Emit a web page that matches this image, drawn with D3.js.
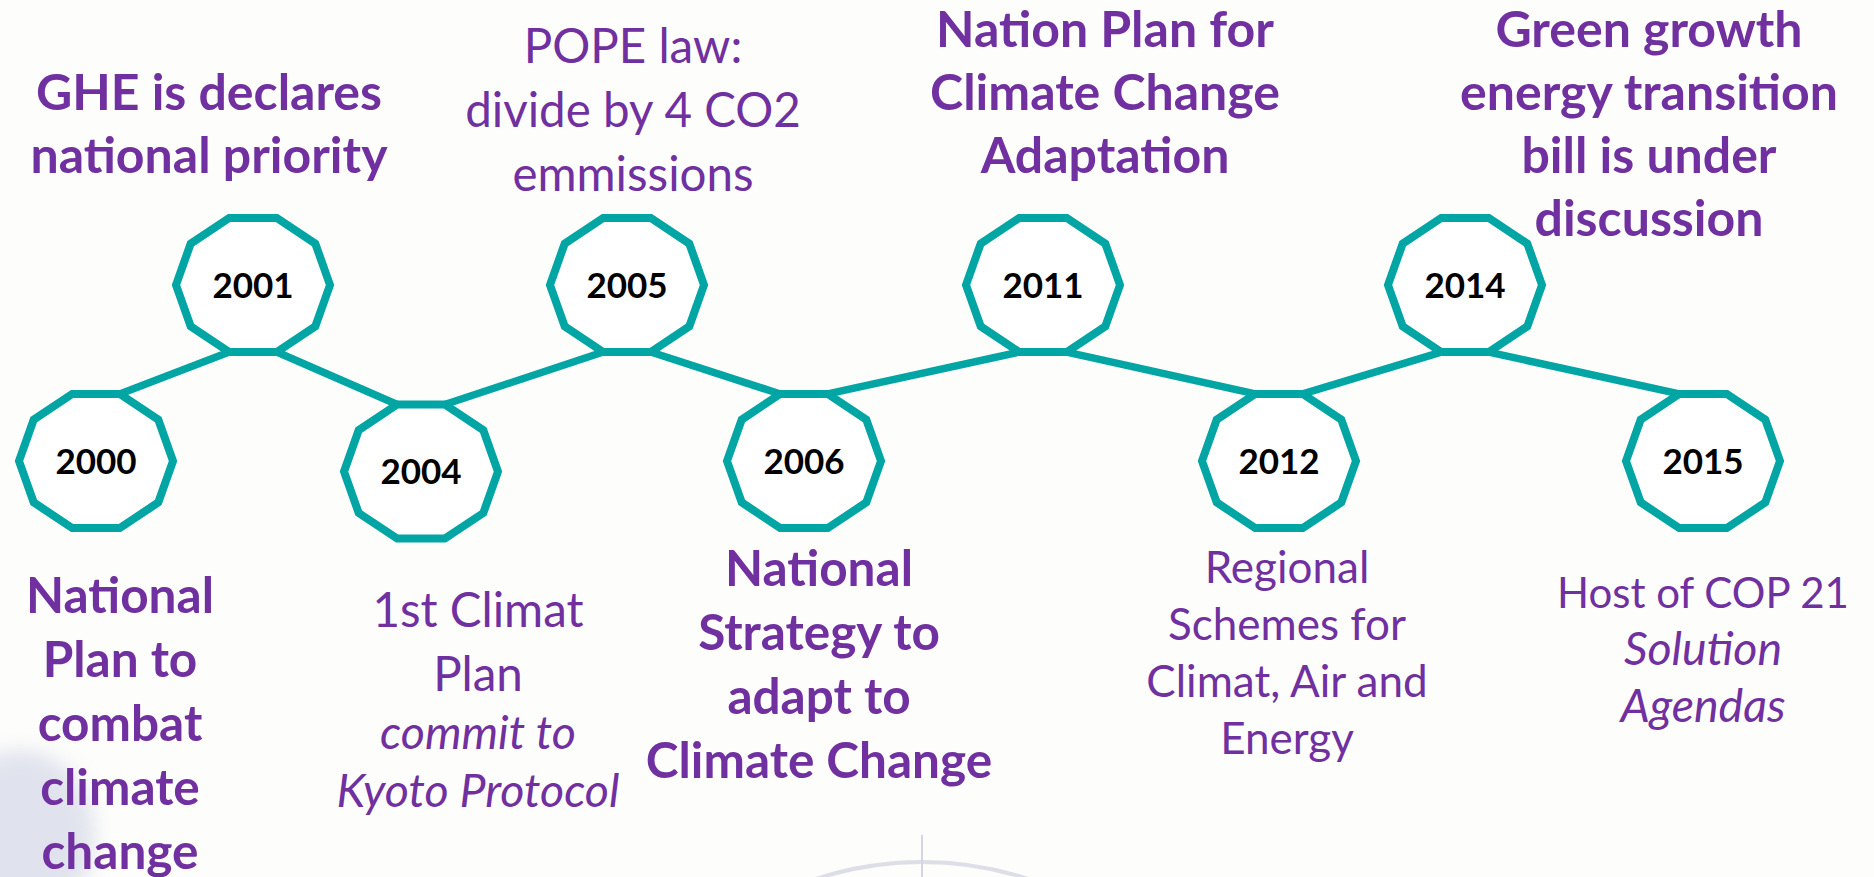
<!DOCTYPE html>
<html><head><meta charset="utf-8">
<script src="https://cdn.jsdelivr.net/npm/d3@7"></script>
<style>
html,body{margin:0;padding:0;background:#fdfdfb;}
svg{display:block;}
</style></head><body>
<svg id="chart" width="1874" height="877"></svg>
<script>
// ---------------- data ----------------
const years = ["2000","2001","2004","2005","2006","2011","2012","2014","2015"];
// row of each milestone: 0 = upper row, 1 = lower row
const levels = [1, 0, 1.06, 0, 1, 0, 1, 0, 1];
const eventLines = [
  ["National","Plan to","combat","climate","change"],
  ["GHE is declares","national priority"],
  ["1st Climat","Plan","commit to","Kyoto Protocol"],
  ["POPE law:","divide by 4 CO2","emmissions"],
  ["National","Strategy to","adapt to","Climate Change"],
  ["Nation Plan for","Climate Change","Adaptation"],
  ["Regional","Schemes for","Climat, Air and","Energy"],
  ["Green growth","energy transition","bill is under","discussion"],
  ["Host of COP 21","Solution","Agendas"]
];
const eventBold = [true, true, false, false, true, true, false, true, false];
const italicFrom = [99, 99, 2, 99, 99, 99, 99, 99, 1];

// ---------------- layout ----------------
const W = 1874, H = 877;
const teal = "#00a5a4", purple = "#7030a0";
const slotX = [96, 253, 421, 627, 804, 1043, 1279, 1465, 1703];
const x = d3.scaleOrdinal(years, slotX);
const y = d3.scaleLinear([0, 1], [285, 461]);
const rx = 77, ry = 70.5;
const labelDx   = [24, -44, 57, 6, 15, 62, 8, 184, 0];
const labelY0   = [613, 110, 627, 63, 586, 47, 583, 47, 608];
const labelGap  = [64, 63, 64, 64, 64, 63, 57, 63, 57];
const labelSize = [49.5, 50, 47.5, 47.5, 49.5, 50, 44, 50, 42];
const italicSize = 46.5;
const FONT = "Lato, 'Open Sans', sans-serif";
const yearSize = 35;

const svg = d3.select("#chart");
svg.append("rect").attr("width", W).attr("height", H).attr("fill", "#fdfdfb");

// faint decorative background watermarks
const defs = svg.append("defs");
defs.append("filter").attr("id", "blur").append("feGaussianBlur").attr("stdDeviation", 10);
const deco = svg.append("g").attr("pointer-events", "none");
deco.append("ellipse").attr("cx", 20).attr("cy", 835).attr("rx", 75).attr("ry", 85)
  .attr("fill", "#c9cfe2").attr("opacity", 0.55).attr("filter", "url(#blur)");
deco.append("circle").attr("cx", 922).attr("cy", 1203).attr("r", 341)
  .attr("fill", "none").attr("stroke", "#d5d6e3").attr("stroke-width", 4).attr("opacity", 0.8);
deco.append("line").attr("x1", 922).attr("x2", 922).attr("y1", 835).attr("y2", 877)
  .attr("stroke", "#d5d6e3").attr("stroke-width", 2);

const nodes = years.map((yr, i) => ({ yr, i, cx: x(yr), cy: y(levels[i]) }));
const vert = (n, deg) => {
  const a = deg * Math.PI / 180;
  return [n.cx + rx * Math.cos(a), n.cy - ry * Math.sin(a)];
};
const decagon = n => d3.range(10).map(k => vert(n, k * 36));

// connectors
const links = d3.pairs(nodes).map(([a, b]) => {
  const aUp = a.cy < b.cy;
  return aUp ? [vert(a, -72), vert(b, 108)] : [vert(a, 72), vert(b, 252)];
});
svg.append("g").selectAll("line").data(links).join("line")
  .attr("x1", d => d[0][0]).attr("y1", d => d[0][1])
  .attr("x2", d => d[1][0]).attr("y2", d => d[1][1])
  .attr("stroke", teal).attr("stroke-width", 7.5);

const lineGen = d3.line().curve(d3.curveLinearClosed);
const g = svg.append("g").selectAll("g").data(nodes).join("g");
g.append("path").attr("d", d => lineGen(decagon(d)))
  .attr("fill", "#ffffff").attr("stroke", teal).attr("stroke-width", 8)
  .attr("stroke-linejoin", "miter");
g.append("text").attr("x", d => d.cx).attr("y", d => d.cy + 12.5)
  .attr("text-anchor", "middle").attr("font-family", FONT)
  .attr("font-weight", 700).attr("font-size", yearSize).attr("fill", "#000")
  .text(d => d.yr);

// labels
nodes.forEach((n, i) => {
  const t = svg.append("text").attr("text-anchor", "middle")
    .attr("font-family", FONT).attr("fill", purple)
    .attr("font-weight", eventBold[i] ? 700 : 400)
    .attr("font-size", labelSize[i]);
  let yy = labelY0[i];
  eventLines[i].forEach((ln, j) => {
    const it = j >= italicFrom[i];
    if (j > 0) yy += it ? Math.min(labelGap[i], 58) : labelGap[i];
    t.append("tspan").attr("x", n.cx + labelDx[i]).attr("y", yy)
      .attr("font-style", it ? "italic" : "normal")
      .attr("font-size", it ? italicSize : null)
      .text(ln);
  });
});
</script></body></html>
